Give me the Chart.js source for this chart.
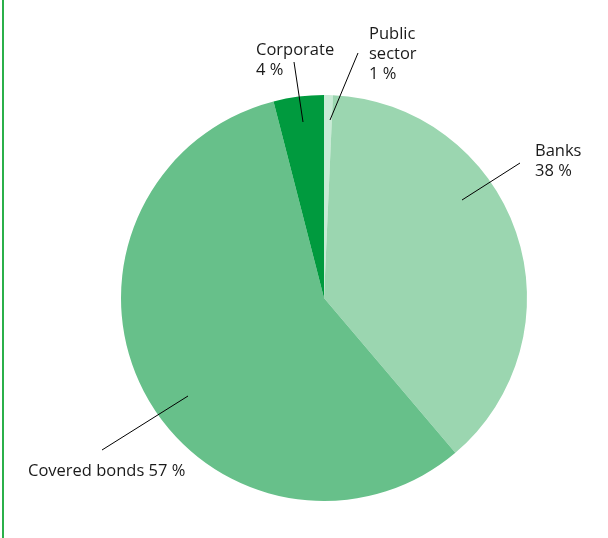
<!DOCTYPE html>
<html>
<head>
<meta charset="utf-8">
<script src="https://cdn.jsdelivr.net/npm/chart.js@4"></script>
<style>
  html, body { margin: 0; padding: 0; background: #fff; }
  #wrap { position: relative; width: 608px; height: 538px; overflow: hidden; }
  #rule { position: absolute; left: 2px; top: 0; width: 2px; height: 538px; background: #2bb04a; }
  canvas { position: absolute; left: 0; top: 0; }
</style>
</head>
<body>
<div id="wrap">
  <div id="rule"></div>
  <canvas id="pie" width="608" height="538"></canvas>
</div>
<script>
// chart data
const categories = ['Public sector', 'Banks', 'Covered bonds', 'Corporate'];
const shares = [0.7, 38.1, 57.2, 4.0];
const shareLabels = ['1 %', '38 %', '57 %', '4 %'];
const colours = ['#c9ebd6', '#9bd6b0', '#67c08a', '#009a3e'];

// label text lines + leader line placement (relative to pie centre, in px)
const labelLayout = [
  { lines: ['Public', 'sector', shareLabels[0]], x: 45, y: -272, line: [[34, -245], [6, -178]] },
  { lines: ['Banks', shareLabels[1]], x: 211, y: -155, line: [[196, -135], [138, -98]] },
  { lines: ['Covered bonds ' + shareLabels[2]], x: -296, y: 165, line: [[-222, 152], [-136, 98]] },
  { lines: ['Corporate', shareLabels[3]], x: -68, y: -256, line: [[-30, -236], [-21, -176]] }
];

const leaderLabels = {
  id: 'leaderLabels',
  afterDraw(chart) {
    const arc = chart.getDatasetMeta(0).data[0];
    const cx = arc.x, cy = arc.y;
    const ctx = chart.ctx;
    ctx.save();
    ctx.strokeStyle = '#000';
    ctx.lineWidth = 1;
    ctx.fillStyle = '#1a1a1a';
    ctx.font = '16.5px "Open Sans", "Noto Sans", sans-serif';
    ctx.textBaseline = 'top';
    labelLayout.forEach(l => {
      ctx.beginPath();
      ctx.moveTo(cx + l.line[0][0], cy + l.line[0][1]);
      ctx.lineTo(cx + l.line[1][0], cy + l.line[1][1]);
      ctx.stroke();
      l.lines.forEach((t, i) => ctx.fillText(t, cx + l.x, cy + l.y + i * 20));
    });
    ctx.restore();
  }
};

new Chart(document.getElementById('pie'), {
  type: 'pie',
  data: {
    labels: categories,
    datasets: [{
      data: shares,
      backgroundColor: colours,
      borderWidth: 0
    }]
  },
  options: {
    responsive: false,
    animation: false,
    layout: { padding: { left: 121, top: 95, right: 81, bottom: 37 } },
    plugins: {
      legend: { display: false },
      tooltip: { enabled: false }
    }
  },
  plugins: [leaderLabels]
});
</script>
</body>
</html>
